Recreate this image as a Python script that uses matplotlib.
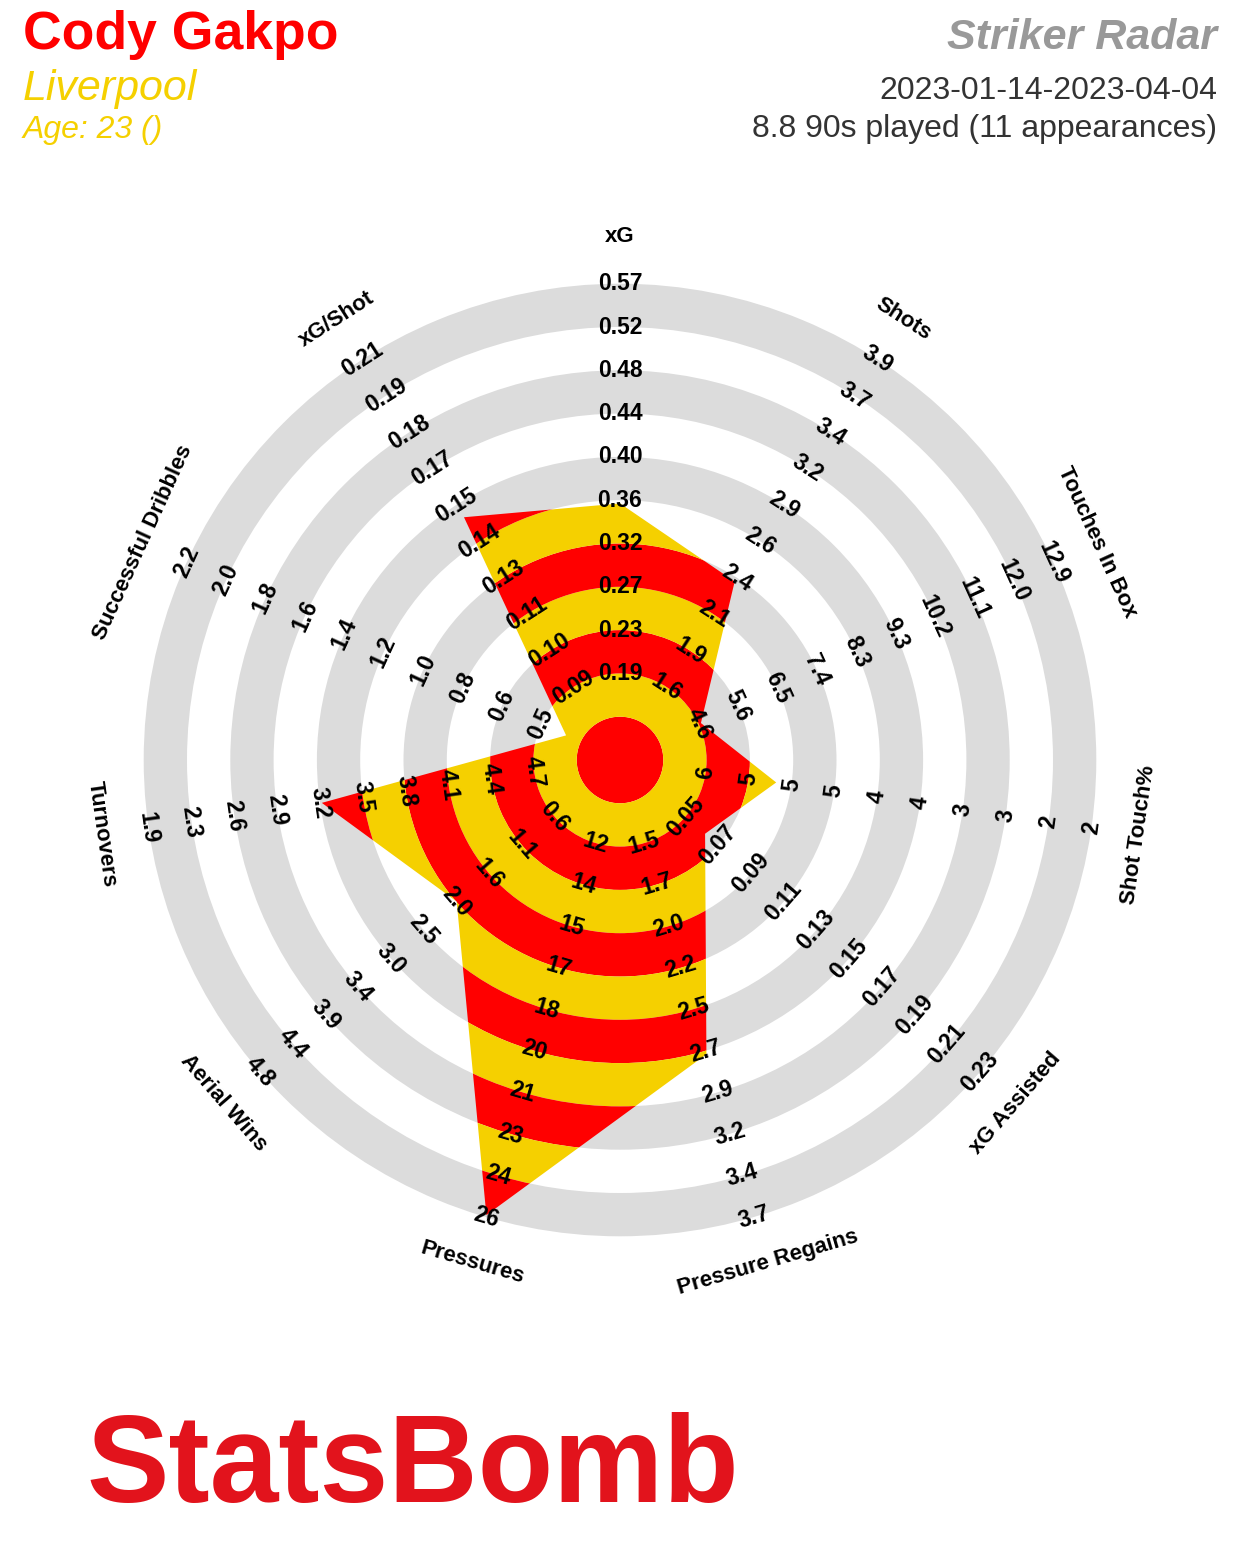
import numpy as np
import matplotlib.pyplot as plt
from matplotlib.patches import Wedge, Polygon

plt.rcParams['font.family'] = ['Liberation Sans', 'DejaVu Sans']

params = ['xG', 'Shots', 'Touches In Box', 'Shot Touch%', 'xG Assisted',
          'Pressure Regains', 'Pressures', 'Aerial Wins', 'Turnovers',
          'Successful Dribbles', 'xG/Shot']
# value at the first labelled ring (ring 2) and at the outer ring (ring 11)
low = [0.19, 1.62, 4.64, 5.9, 0.05, 1.5, 12.1, 0.62, 4.745, 0.45, 0.0875]
high = [0.566, 3.933, 12.94, 1.85, 0.23, 3.66, 25.87, 4.832, 1.94, 2.16, 0.2081]
values = [0.354, 2.365, 4.69, 5.16, 0.062, 2.72, 25.8, 2.02, 3.20, 0.33, 0.150]

ring_labels = [
    ['0.19', '0.23', '0.27', '0.32', '0.36', '0.40', '0.44', '0.48', '0.52', '0.57'],
    ['1.6', '1.9', '2.1', '2.4', '2.6', '2.9', '3.2', '3.4', '3.7', '3.9'],
    ['4.6', '5.6', '6.5', '7.4', '8.3', '9.3', '10.2', '11.1', '12.0', '12.9'],
    ['6', '5', '5', '5', '4', '4', '3', '3', '2', '2'],
    ['0.05', '0.07', '0.09', '0.11', '0.13', '0.15', '0.17', '0.19', '0.21', '0.23'],
    ['1.5', '1.7', '2.0', '2.2', '2.5', '2.7', '2.9', '3.2', '3.4', '3.7'],
    ['12', '14', '15', '17', '18', '20', '21', '23', '24', '26'],
    ['0.6', '1.1', '1.6', '2.0', '2.5', '3.0', '3.4', '3.9', '4.4', '4.8'],
    ['4.7', '4.4', '4.1', '3.8', '3.5', '3.2', '2.9', '2.6', '2.3', '1.9'],
    ['0.5', '0.6', '0.8', '1.0', '1.2', '1.4', '1.6', '1.8', '2.0', '2.2'],
    ['0.09', '0.10', '0.11', '0.13', '0.14', '0.15', '0.17', '0.18', '0.19', '0.21'],
]

player = 'Cody Gakpo'
team = 'Liverpool'
age = 'Age: 23 ()'
radar_title = 'Striker Radar'
dates = '2023-01-14-2023-04-04'
minutes = '8.8 90s played (11 appearances)'

RED = '#ff0000'
YELLOW = '#f5d000'
GREY = '#dcdcdc'

W, H = 1240, 1560
unit = 43.3          # pixels per ring
cx, cy = 620, 760    # radar centre in pixels from top-left
n_rings = 11

fig = plt.figure(figsize=(W / 100, H / 100), dpi=100)
ax = fig.add_axes([0, 0, 1, 1])
ax.set_xlim(-cx / unit, (W - cx) / unit)
ax.set_ylim(-(H - cy) / unit, cy / unit)
ax.axis('off')

# background rings
for k in range(2, n_rings, 2):
    ax.add_patch(Wedge((0, 0), k + 1, 0, 360, width=1, color=GREY, lw=0, zorder=1))

angles = np.deg2rad(90 - np.arange(len(params)) * 360 / len(params))
radii = [2 + 9 * (v - lo) / (hi - lo) for v, lo, hi in zip(values, low, high)]
verts = np.column_stack([np.cos(angles) * radii, np.sin(angles) * radii])
poly = Polygon(verts, closed=True, fc='none', ec='none')
ax.add_patch(poly)

# striped fill clipped to the player polygon
for k in range(n_rings):
    col = RED if k % 2 == 0 else YELLOW
    w = Wedge((0, 0), k + 1, 0, 360, width=1, color=col, lw=0, zorder=2)
    ax.add_patch(w)
    w.set_clip_path(poly)

# ring labels and parameter names
for i, ang in enumerate(angles):
    deg = np.rad2deg(ang)
    deg = (deg + 180) % 360 - 180
    rot = deg - 90 if deg >= 0 else deg + 90
    for j, lab in enumerate(ring_labels[i]):
        r = j + 2
        ax.text(np.cos(ang) * r, np.sin(ang) * r, lab, rotation=rot,
                rotation_mode='anchor', ha='center', va='center',
                fontsize=16.5, fontweight='bold', color='black', zorder=4)
    r = 12.1
    ax.text(np.cos(ang) * r, np.sin(ang) * r, params[i], rotation=rot,
            rotation_mode='anchor', ha='center', va='center',
            fontsize=16, fontweight='bold', color='black', zorder=4)

# header
fig.text(23 / W, 1 - 49 / H, player, fontsize=38.5, fontweight='bold', color=RED)
fig.text(23 / W, 1 - 100 / H, team, fontsize=31, style='italic', color=YELLOW)
fig.text(23 / W, 1 - 138 / H, age, fontsize=23, style='italic', color=YELLOW)
fig.text(1217 / W, 1 - 49 / H, radar_title, fontsize=31, fontweight='bold',
         style='italic', color='#999999', ha='right')
fig.text(1217 / W, 1 - 99 / H, dates, fontsize=23, color='#333333', ha='right')
fig.text(1217 / W, 1 - 137 / H, minutes, fontsize=23, color='#333333', ha='right')

# logo
fig.text(86 / W, 1 - 1502 / H, 'StatsBomb', fontsize=89, fontweight='bold',
         color='#e2131c')

fig.savefig('out.png', dpi=100, facecolor='white')
